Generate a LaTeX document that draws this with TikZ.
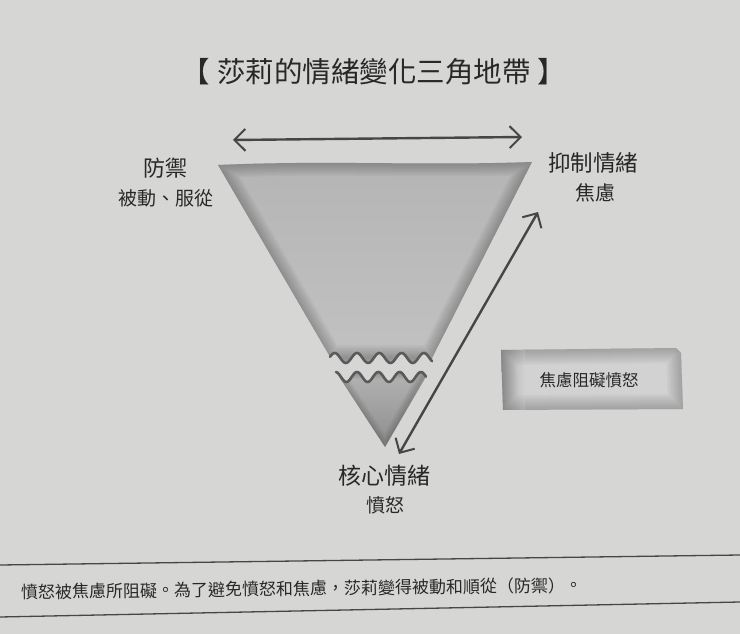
\documentclass[tikz,border=0pt]{standalone}
\usepackage{fontspec}
\setmainfont{Noto Sans CJK TC}
\usetikzlibrary{arrows.meta}
\definecolor{bg}{RGB}{214,215,213}
\definecolor{ink}{RGB}{40,40,40}
\definecolor{arrowc}{RGB}{70,70,70}
\definecolor{waveline}{RGB}{90,90,90}
\definecolor{triA}{RGB}{180,180,180}
\definecolor{triB}{RGB}{194,194,194}
\definecolor{lowA}{RGB}{182,182,182}
\definecolor{lowB}{RGB}{140,140,140}
\definecolor{rimc}{RGB}{60,60,60}
\definecolor{boxin}{RGB}{210,210,210}
\definecolor{rule}{RGB}{70,70,70}
\tikzset{
  lbl/.style={text=ink, inner sep=0pt},
  dbl/.style={draw=arrowc, line width=2.4pt, {Straight Barb[length=11pt,width=22pt,line width=2pt]}-{Straight Barb[length=11pt,width=22pt,line width=2pt]}},
  wave/.style={draw=waveline, line width=2.6pt, line cap=round},
  rulel/.style={draw=rule, line width=1.3pt},
  softrim/.style={draw=rimc, line width=#1, opacity=0.045, line join=round}
}
\begin{document}
\begin{tikzpicture}[x=1pt,y=-1pt]
\path[use as bounding box, fill=bg] (0,0) rectangle (740,634);
% upper triangle piece
\begin{scope}
\clip (218,165) .. controls (330,160) and (420,166) .. (532,162) -- (432,358)
  -- plot[domain=432:330, samples=80] (\x,{358-5*cos((\x-357)/22.3*360)}) -- cycle;
\shade[top color=triA, bottom color=triB] (210,150) rectangle (540,370);
\foreach \w in {26,23,...,2}{
\draw[softrim=\w pt] (218,165) .. controls (330,160) and (420,166) .. (532,162) -- (432,358)
  -- (330,358) -- cycle;}
\end{scope}
% lower triangle piece
\begin{scope}
\clip plot[domain=336:426, samples=80] (\x,{377-5*cos((\x-357)/21.3*360)}) -- (385,447) -- cycle;
\shade[top color=lowA, bottom color=lowB] (330,365) rectangle (430,450);
\foreach \w in {14,12,...,2}{
\draw[softrim=\w pt] (336,372) -- (426,372) -- (385,447) -- cycle;}
\end{scope}
% wave lines
\draw[wave] plot[domain=330:432, samples=80] (\x,{358-5*cos((\x-357)/22.3*360)});
\draw[wave] plot[domain=336:426, samples=80] (\x,{377-5*cos((\x-357)/21.3*360)});
% arrows
\coordinate (hl) at (233,140);
\coordinate (hr) at (522,137);
\coordinate (dt) at (538,212);
\coordinate (db) at (399,454);
\draw[dbl] (hl) -- (hr);
\draw[dbl] (db) -- (dt);
% title
\node[lbl] (title) at (374,72) {\fontsize{28.5}{31}\selectfont 【\hspace{7pt}莎莉的情緒變化三角地帶\hspace{7pt}】};
% labels
\node[lbl] (fangyu) at (165,168) {\fontsize{22}{24}\selectfont 防禦};
\node[lbl] (beidong) at (166,198) {\fontsize{19}{22}\selectfont 被動、服從};
\node[lbl] (yizhi) at (593,163) {\fontsize{22.5}{24}\selectfont 抑制情緒};
\node[lbl] (jiaolv) at (595,193) {\fontsize{20}{22}\selectfont 焦慮};
\node[lbl] (hexin) at (384,476) {\fontsize{23}{25}\selectfont 核心情緒};
\node[lbl] (fennu) at (385,505) {\fontsize{19}{22}\selectfont 憤怒};
% box
\begin{scope}
\clip (501,350) -- (676,348) -- (681,353) -- (683,409) -- (503,410) -- cycle;
\fill[boxin] (495,340) rectangle (690,415);
\foreach \w in {30,26,...,2}{
\draw[softrim=\w pt] (501,350) -- (676,348) -- (681,353) -- (683,409) -- (503,410) -- cycle;}
\shade[left color=rimc, right color=boxin, opacity=0.25] (501,345) rectangle (525,412);
\end{scope}
\node[lbl] (boxtext) at (589,380) {\fontsize{16.5}{18}\selectfont 焦慮阻礙憤怒};
% caption rules
\coordinate (t1) at (0,565);
\coordinate (t2) at (740,555);
\coordinate (b1) at (0,617);
\coordinate (b2) at (740,602);
\draw[rulel] (t1) -- (t2);
\draw[rulel] (b1) -- (b2);
\node[lbl, anchor=west, rotate=0.7] (caption) at (21,592) {\fontsize{17}{19}\selectfont 憤怒被焦慮所阻礙。為了避免憤怒和焦慮，莎莉變得被動和順從（防禦）。};
\end{tikzpicture}
\end{document}
